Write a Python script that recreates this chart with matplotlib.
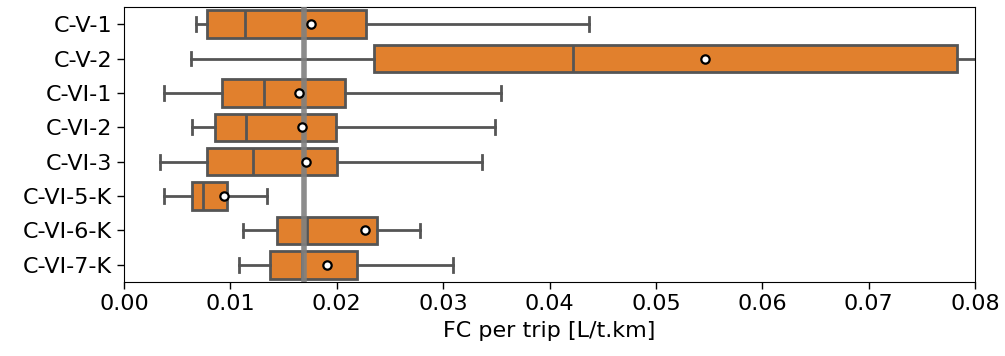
import matplotlib
matplotlib.use("Agg")
import matplotlib.pyplot as plt
import numpy as np

categories = ["C-V-1", "C-V-2", "C-VI-1", "C-VI-2", "C-VI-3", "C-VI-5-K", "C-VI-6-K", "C-VI-7-K"]
whislo = [0.00673, 0.00626, 0.00372, 0.00635, 0.00334, 0.00380, 0.01115, 0.01077]
q1     = [0.00776, 0.02347, 0.00917, 0.00860, 0.00776, 0.00635, 0.01434, 0.01369]
median = [0.01134, 0.04224, 0.01312, 0.01143, 0.01210, 0.00738, 0.01716, 0.01670]
q3     = [0.02272, 0.07832, 0.02074, 0.01990, 0.02000, 0.00964, 0.02375, 0.02190]
whishi = [0.04370, 0.09000, 0.03542, 0.03485, 0.03370, 0.01340, 0.02780, 0.03090]
means  = [0.01755, 0.05460, 0.01641, 0.01669, 0.01708, 0.00936, 0.02270, 0.01905]
ref_line = 0.01695
xticks = [0.00, 0.01, 0.02, 0.03, 0.04, 0.05, 0.06, 0.07, 0.08]

stats = []
for i, c in enumerate(categories):
    stats.append(dict(label=c, whislo=whislo[i], q1=q1[i], med=median[i],
                      q3=q3[i], whishi=whishi[i], mean=means[i], fliers=[]))

fig = plt.figure(figsize=(10.05, 3.56), dpi=100)
ax = fig.add_axes([124/1005, 1-282/356, (975-124)/1005, (282-7)/356])

box_color = "#e1802d"
edge = "#555555"
lw = 2.0
ax.bxp(stats, positions=np.arange(len(categories)), vert=False, widths=0.8,
       patch_artist=True, showmeans=True, showfliers=False,
       boxprops=dict(facecolor=box_color, edgecolor=edge, linewidth=lw),
       medianprops=dict(color=edge, linewidth=lw),
       whiskerprops=dict(color=edge, linewidth=lw),
       capprops=dict(color=edge, linewidth=lw),
       meanprops=dict(marker="o", markerfacecolor="white", markeredgecolor="black",
                      markersize=6, markeredgewidth=1.6, zorder=5),
       capwidths=0.4)

ax.axvline(ref_line, color="gray", linewidth=4, alpha=0.9, zorder=4)

fs = 16
ax.set_xlim(0, 0.08)
ax.set_ylim(len(categories) - 0.5, -0.5)
ax.set_yticks(np.arange(len(categories)))
ax.set_yticklabels(categories, fontsize=fs)
ax.set_xticks(xticks)
ax.set_xticklabels([f"{t:.2f}" for t in xticks], fontsize=fs)
ax.set_xlabel("FC per trip [L/t.km]", fontsize=fs, labelpad=5)
ax.tick_params(length=5, width=1)

fig.savefig("out.png", dpi=100)
